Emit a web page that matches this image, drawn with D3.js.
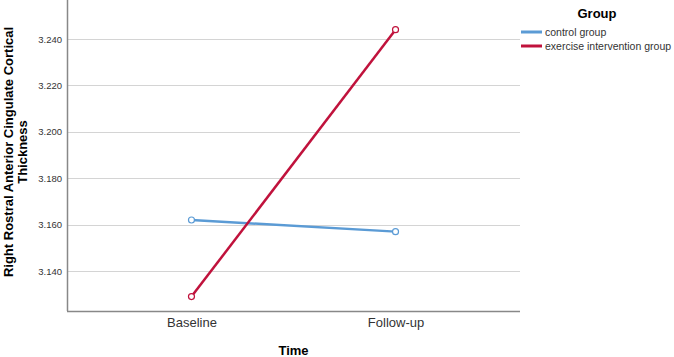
<!DOCTYPE html>
<html>
<head>
<meta charset="utf-8">
<script src="https://cdn.jsdelivr.net/npm/d3@7"></script>
<style>
  body { margin: 0; background: #fff; }
  svg { font-family: Arial, "Liberation Sans", sans-serif; }
  .grid line { stroke: #d4d4d4; }
  .yAxis text, .xAxis text { fill: #333; }
</style>
</head>
<body>
<svg id="chart" width="674" height="357"></svg>
<script>
const times = ['Baseline', 'Follow-up'];
const groups = ['control group', 'exercise intervention group'];
const controlValues = [3.162, 3.157];
const exerciseValues = [3.129, 3.244];
const yTicks = [3.140, 3.160, 3.180, 3.200, 3.220, 3.240];
const colors = ['#5b9bd5', '#c0123c'];

const margin = { top: 0, right: 154, left: 67, bottom: 46 };
const width = 674 - margin.left - margin.right;
const height = 357 - margin.top - margin.bottom;

const svg = d3.select('#chart');
const g = svg.append('g')
    .attr('transform', `translate(${margin.left}, ${margin.top})`);

const xScale = d3.scalePoint()
    .domain(times)
    .range([0, width])
    .padding(0.61);

const yScale = d3.scaleLinear()
    .domain([3.1228, 3.2568])
    .range([height, 0]);

// gridlines
g.append('g')
    .attr('class', 'grid')
    .selectAll('line')
    .data(yTicks)
    .join('line')
    .attr('x1', 0)
    .attr('x2', width)
    .attr('y1', d => Math.round(yScale(d)) + 0.5)
    .attr('y2', d => Math.round(yScale(d)) + 0.5);

const yAxis = d3.axisLeft(yScale)
    .tickValues(yTicks)
    .tickFormat(d3.format('.3f'))
    .tickSize(0)
    .tickPadding(5);
g.append('g')
    .attr('class', 'yAxis')
    .call(yAxis)
    .call(a => a.select('.domain').remove())
    .selectAll('text')
    .attr('font-size', 9.5);

const xAxis = d3.axisBottom(xScale).tickSize(0).tickPadding(7);
g.append('g')
    .attr('class', 'xAxis')
    .attr('transform', `translate(0,${height})`)
    .call(xAxis)
    .call(a => a.select('.domain').remove())
    .selectAll('text')
    .attr('font-size', 13);

// axis lines
g.append('line')
    .attr('x1', 0.5).attr('x2', 0.5)
    .attr('y1', 0).attr('y2', height)
    .attr('stroke', '#888').attr('stroke-width', 1.5);
g.append('line')
    .attr('x1', 0).attr('x2', width)
    .attr('y1', height + 0.5).attr('y2', height + 0.5)
    .attr('stroke', '#888').attr('stroke-width', 1.5);

const series = [controlValues, exerciseValues];
const line = d3.line()
    .x((d, i) => xScale(times[i]))
    .y(d => yScale(d));

series.forEach((vals, k) => {
    g.append('path')
        .datum(vals)
        .attr('d', line)
        .attr('fill', 'none')
        .attr('stroke', colors[k])
        .attr('stroke-width', 2.5);
    g.selectAll(`.pt${k}`)
        .data(vals)
        .join('circle')
        .attr('class', `pt${k}`)
        .attr('cx', (d, i) => xScale(times[i]))
        .attr('cy', d => yScale(d))
        .attr('r', 3)
        .attr('fill', '#fff')
        .attr('stroke', colors[k])
        .attr('stroke-width', 1.2);
});

// axis titles
svg.append('text')
    .attr('x', margin.left + width / 2)
    .attr('y', 350)
    .attr('dy', '0.35em')
    .attr('text-anchor', 'middle')
    .attr('font-size', 13)
    .attr('font-weight', 'bold')
    .text('Time');

const yTitle = svg.append('text')
    .attr('transform', 'translate(0,152) rotate(-90)')
    .attr('text-anchor', 'middle')
    .attr('font-size', 13)
    .attr('font-weight', 'bold');
yTitle.append('tspan').attr('x', 0).attr('y', 13).text('Right Rostral Anterior Cingulate Cortical');
yTitle.append('tspan').attr('x', 0).attr('y', 27).text('Thickness');

// legend
const legend = svg.append('g').attr('transform', 'translate(521,0)');
legend.append('text')
    .attr('x', 76)
    .attr('y', 13)
    .attr('dy', '0.35em')
    .attr('text-anchor', 'middle')
    .attr('font-size', 13)
    .attr('font-weight', 'bold')
    .text('Group');
groups.forEach((name, k) => {
    const y = 32 + k * 14;
    legend.append('line')
        .attr('x1', 0).attr('x2', 21)
        .attr('y1', y).attr('y2', y)
        .attr('stroke', colors[k])
        .attr('stroke-width', 3);
    legend.append('text')
        .attr('x', 24)
        .attr('y', y)
        .attr('dy', '0.35em')
        .attr('font-size', 10.5)
        .attr('fill', '#333')
        .text(name);
});
</script>
</body>
</html>
